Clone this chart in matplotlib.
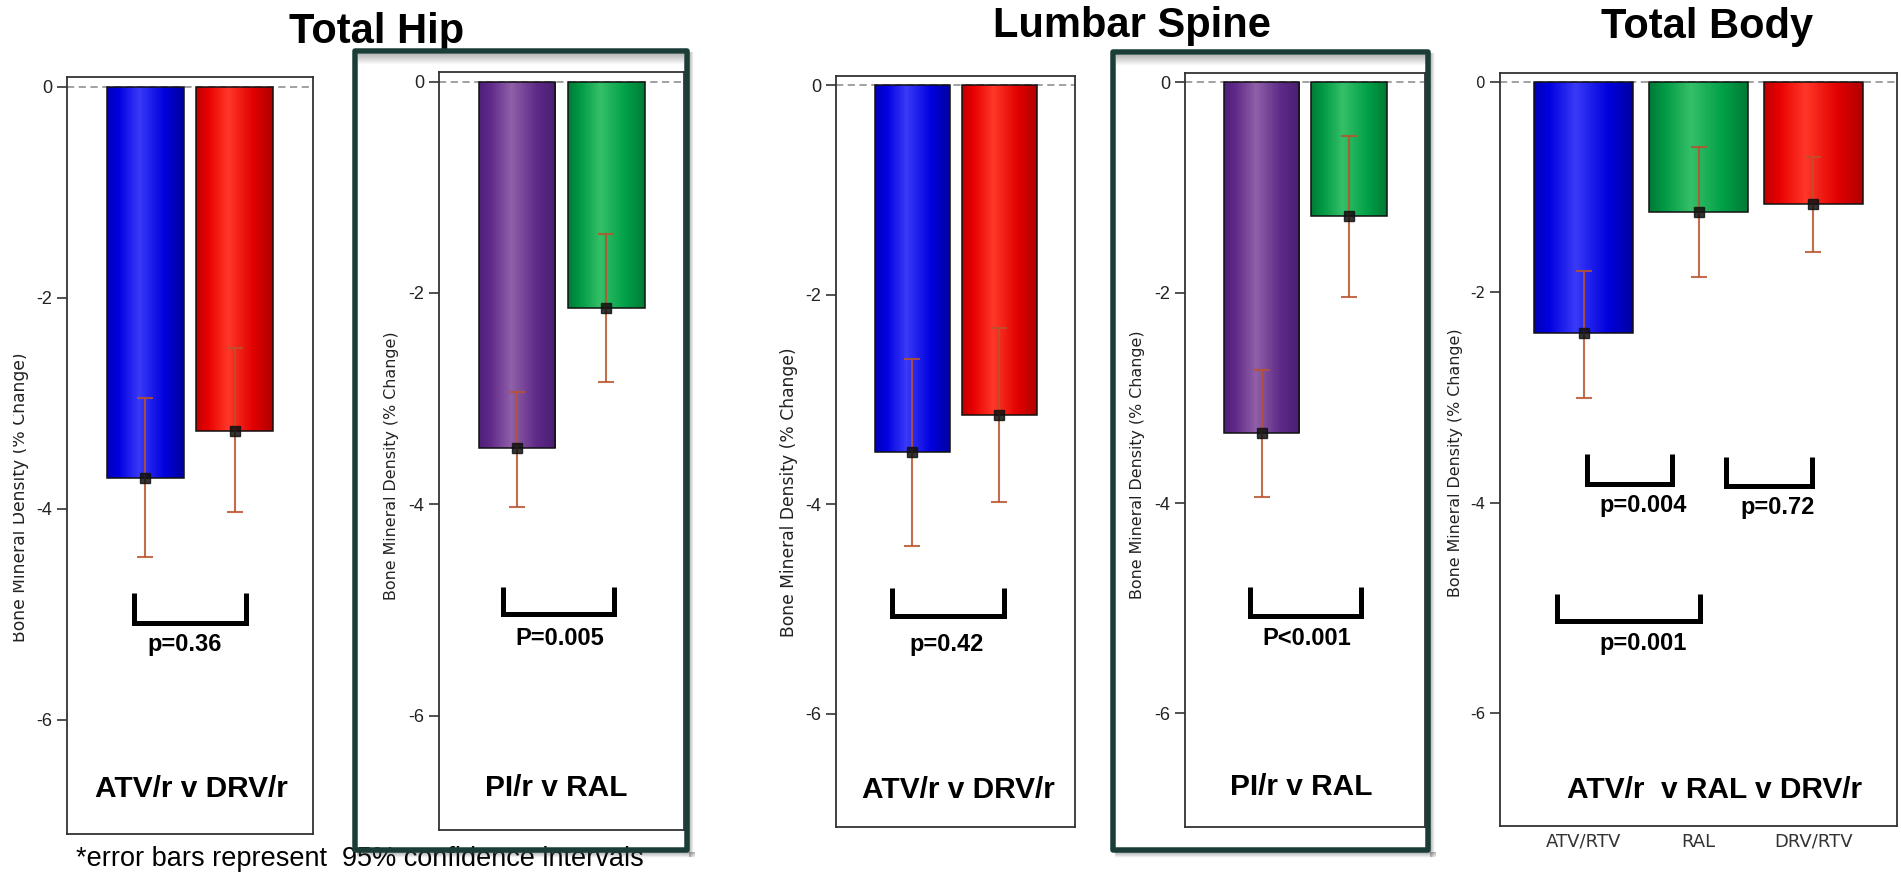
import numpy as np
import matplotlib
matplotlib.use("Agg")
import matplotlib.pyplot as plt
from matplotlib.patches import Rectangle
from matplotlib.colors import to_rgb
from matplotlib import font_manager as fm
from matplotlib.transforms import Bbox, TransformedBbox

plt.rcParams["axes.unicode_minus"] = False

# ---------------- data ----------------
hip_ab_groups = ["ATV/r", "DRV/r"]
hip_ab_mean = [-3.71, -3.26]
hip_ab_lo = [-4.46, -4.03]
hip_ab_hi = [-2.95, -2.48]

hip_pr_groups = ["PI/r", "RAL"]
hip_pr_mean = [-3.47, -2.14]
hip_pr_lo = [-4.02, -2.84]
hip_pr_hi = [-2.94, -1.44]

spine_ab_groups = ["ATV/r", "DRV/r"]
spine_ab_mean = [-3.50, -3.15]
spine_ab_lo = [-4.40, -3.98]
spine_ab_hi = [-2.61, -2.32]

spine_pr_groups = ["PI/r", "RAL"]
spine_pr_mean = [-3.33, -1.27]
spine_pr_lo = [-3.94, -2.04]
spine_pr_hi = [-2.73, -0.51]

body_groups = ["ATV/RTV", "RAL", "DRV/RTV"]
body_mean = [-2.39, -1.23, -1.16]
body_lo = [-3.00, -1.85, -1.61]
body_hi = [-1.80, -0.61, -0.71]

ytick_vals = [0, -2, -4, -6]
ytick_labels = ["0", "-2", "-4", "-6"]

titles = ["Total Hip", "Lumbar Spine", "Total Body"]
ylabel_text = "Bone Mineral Density (% Change)"
panel_labels = ["ATV/r v DRV/r", "PI/r v RAL", "ATV/r v DRV/r", "PI/r v RAL",
                "ATV/r  v RAL v DRV/r"]
footnote = "*error bars represent  95% confidence intervals"

# comparisons: (bar_from, bar_to, p-text) -- bracket spans in bar units
hip_ab_cmp = [(-0.13, 1.13, "p=0.36")]
hip_pr_cmp = [(-0.16, 1.09, "P=0.005")]
spine_ab_cmp = [(-0.23, 1.05, "p=0.42")]
spine_pr_cmp = [(-0.13, 1.14, "P<0.001")]
body_cmp = [(0.03, 0.77, "p=0.004"), (1.24, 1.99, "p=0.72"), (-0.23, 1.01, "p=0.001")]

# ---------------- style ----------------
SHADES = {
    "blue":   ["#0000b8", "#0000e0", "#3a3af8", "#0000dd", "#0000a0"],
    "red":    ["#c00000", "#e80000", "#ff3828", "#e00000", "#b00000"],
    "green":  ["#007a38", "#009944", "#35c068", "#00a048", "#007a35"],
    "purple": ["#4e2078", "#602a8a", "#9060a8", "#5e2a88", "#4a1e70"],
}
STOPS = [0.0, 0.15, 0.42, 0.75, 1.0]

names = {f.name for f in fm.fontManager.ttflist}
HAS_NARROW = "Liberation Sans Narrow" in names
SANS = "Liberation Sans"

W, H = 1901, 873
fig = plt.figure(figsize=(W / 100, H / 100), dpi=100)
fig.patch.set_facecolor("white")


def fx(x):
    return x / W


def fy(y):
    return 1 - y / H


def px_axes(l, t, r, b):
    return fig.add_axes([l / W, 1 - b / H, (r - l) / W, (b - t) / H])


def gradient(name, n=128):
    cols = np.array([to_rgb(c) for c in SHADES[name]])
    xs = np.linspace(0, 1, n)
    arr = np.stack([np.interp(xs, STOPS, cols[:, k]) for k in range(3)], axis=-1)
    return arr[np.newaxis, :, :]


def draw_panel(ax, means, lo, hi, colors, xlim, cmps, cmp_y, label, label_pos,
               tick_font=(SANS, 13), xticklabels=None):
    means = np.asarray(means)
    lo = np.asarray(lo)
    hi = np.asarray(hi)
    x = np.arange(len(means))
    ax.axhline(0, color="#9a9a9a", lw=1.3, ls=(0, (4, 2.5)), zorder=1)
    bars = ax.bar(x, means, width=0.86, facecolor="none", edgecolor="#111111",
                  lw=1.1, zorder=4)
    for patch, cname in zip(bars.patches, colors):
        x0, y0 = patch.get_x(), patch.get_y()
        w, h = patch.get_width(), patch.get_height()
        im = ax.imshow(gradient(cname), extent=(x0, x0 + w, y0 + h, y0),
                       aspect="auto", zorder=3, interpolation="bilinear")
        im.set_clip_path(patch)
    ax.errorbar(x, means, yerr=[means - lo, hi - means], fmt="none",
                ecolor="#b9532d", elinewidth=1.5, capsize=6, capthick=1.5,
                alpha=0.85, zorder=5)
    ax.plot(x, means, "s", color="#111111", ms=7, alpha=0.85, zorder=6)

    for (b0, b1, ptxt), (ytop, ybot, ytxt, xtxt) in zip(cmps, cmp_y):
        ax.plot([b0, b0, b1, b1], [ytop, ybot, ybot, ytop], color="black",
                lw=3.6, solid_joinstyle="miter", solid_capstyle="butt",
                zorder=7, clip_on=False)
        ax.text(xtxt, ytxt, ptxt, ha="center", va="baseline", fontsize=17,
                fontweight="bold", family=SANS, zorder=8)
    ax.text(label_pos[0], label_pos[1], label, ha="center", va="baseline",
            fontsize=21.5, fontweight="bold", family=SANS, zorder=8)

    ax.set_xlim(*xlim)
    ax.set_ylim(-7.08, 0.09)
    ax.set_yticks(ytick_vals)
    ax.set_yticklabels(ytick_labels, family=tick_font[0], fontsize=tick_font[1],
                       color="#222222")
    ax.tick_params(axis="y", direction="out", length=7, width=1.2, pad=3.5,
                   colors="#333333", labelcolor="#222222")
    if xticklabels is None:
        ax.set_xticks([])
    else:
        ax.set_xticks(x)
        ax.set_xticklabels(xticklabels, family="DejaVu Sans", fontsize=13,
                           color="#333333")
        ax.tick_params(axis="x", length=0, pad=5)
    for s in ax.spines.values():
        s.set_color("#333333")
        s.set_linewidth(1.3)


XL2 = (-0.875, 1.87)
XL3 = (-0.73, 2.73)

# Panel 1: Total hip ATV vs DRV
ax1 = px_axes(67, 77, 312.5, 834)
draw_panel(ax1, hip_ab_mean, hip_ab_lo, hip_ab_hi, ["blue", "red"], XL2,
           hip_ab_cmp, [(-4.80, -5.08, -5.35, 0.44)], panel_labels[0], (0.52, -6.73))

# Panel 2: Total hip PI vs RAL
ax2 = px_axes(439, 72, 684, 830)
draw_panel(ax2, hip_pr_mean, hip_pr_lo, hip_pr_hi, ["purple", "green"], XL2,
           hip_pr_cmp, [(-4.78, -5.04, -5.33, 0.48)], panel_labels[1], (0.44, -6.76))

# Panel 3: Lumbar spine ATV vs DRV
ax3 = px_axes(836, 76, 1075, 827)
draw_panel(ax3, spine_ab_mean, spine_ab_lo, spine_ab_hi, ["blue", "red"], XL2,
           spine_ab_cmp, [(-4.80, -5.07, -5.40, 0.40)], panel_labels[2], (0.53, -6.80))

# Panel 4: Lumbar spine PI vs RAL
ax4 = px_axes(1185, 73, 1425, 827)
draw_panel(ax4, spine_pr_mean, spine_pr_lo, spine_pr_hi, ["purple", "green"], XL2,
           spine_pr_cmp, [(-4.80, -5.07, -5.35, 0.52)], panel_labels[3], (0.46, -6.78))

# Panel 5: Total body
ax5 = px_axes(1500, 73, 1897, 826)
draw_panel(ax5, body_mean, body_lo, body_hi, ["blue", "green", "red"], XL3,
           body_cmp,
           [(-3.54, -3.82, -4.09, 0.52), (-3.57, -3.84, -4.11, 1.69),
            (-4.87, -5.13, -5.40, 0.52)],
           panel_labels[4], (1.14, -6.81), tick_font=("DejaVu Sans", 11),
           xticklabels=body_groups)

# y labels
for (xc, yc, fs) in [(20, 497, 12.3), (391, 466, 11.4), (789, 492, 12.3),
                     (1137.5, 465, 11.4), (1455, 463, 11.4)]:
    t = fig.text(fx(xc), fy(yc), ylabel_text, rotation=90, ha="center",
                 va="center", fontsize=fs, family="DejaVu Sans", color="#222222")
    if xc < 30:
        t.set_clip_box(TransformedBbox(Bbox([[fx(13), 0], [1, 1]]),
                                       fig.transFigure))

# titles
fig.text(fx(377), fy(43), titles[0], ha="center", va="baseline", fontsize=30,
         fontweight="bold", family=SANS)
fig.text(fx(1132), fy(37), titles[1], ha="center", va="baseline", fontsize=30,
         fontweight="bold", family=SANS)
fig.text(fx(1707), fy(38), titles[2], ha="center", va="baseline", fontsize=30,
         fontweight="bold", family=SANS)

# footnote
if HAS_NARROW:
    fig.text(fx(76), fy(866), footnote, ha="left", va="baseline", fontsize=22,
             family="Liberation Sans Narrow", zorder=2)
else:
    fig.text(fx(76), fy(866), footnote, ha="left", va="baseline", fontsize=19.5,
             family=SANS, zorder=2)

# highlight boxes
BOX_C = "#1a3d38"
LW_PX = 5.5
for (l, t, r, b) in [(352.7, 48, 689.7, 853), (1110.7, 49, 1430.8, 853)]:
    # inner top shadow
    sax = fig.add_axes([fx(l + LW_PX), fy(t + LW_PX + 12), (r - l - 2 * LW_PX) / W, 12 / H],
                       zorder=9)
    sh = np.zeros((20, 2, 4))
    sh[..., :3] = 0.45
    sh[..., 3] = np.linspace(0.55, 0.0, 20)[:, None]
    sax.imshow(sh, aspect="auto", extent=(0, 1, 0, 1), interpolation="bilinear")
    sax.set_axis_off()
    # outer drop shadow (bottom and right)
    for rect in [(l + 4, b - 1, r - l, 6), (r - 1, t + 4, 5, b - t)]:
        dax = fig.add_axes([fx(rect[0]), fy(rect[1] + rect[3]), rect[2] / W, rect[3] / H],
                           zorder=8)
        ds = np.zeros((12, 12, 4))
        ds[..., :3] = 0.3
        if rect[2] > rect[3]:
            ds[..., 3] = np.linspace(0.45, 0.0, 12)[:, None]
        else:
            ds[..., 3] = np.linspace(0.45, 0.0, 12)[None, :]
        dax.imshow(ds, aspect="auto", extent=(0, 1, 0, 1), interpolation="bilinear")
        dax.set_axis_off()
    rp = Rectangle((fx(l + LW_PX / 2), fy(b - LW_PX / 2)),
                   (r - l - LW_PX) / W, (b - t - LW_PX) / H,
                   transform=fig.transFigure, facecolor="none", edgecolor=BOX_C,
                   lw=LW_PX * 0.72, joinstyle="round", zorder=10)
    fig.patches.append(rp)

fig.savefig("out.png", dpi=100, facecolor="white")
